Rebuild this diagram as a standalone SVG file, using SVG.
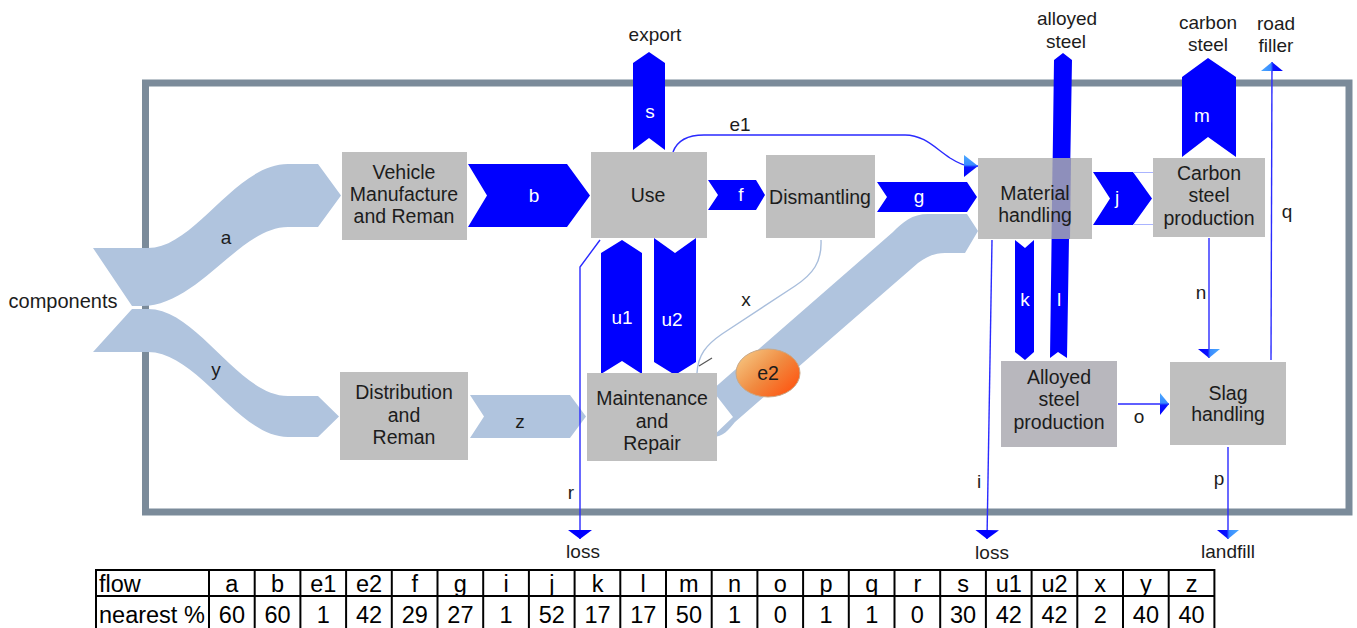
<svg xmlns="http://www.w3.org/2000/svg" width="1357" height="628" viewBox="0 0 1357 628">
  <defs>
    <linearGradient id="headFill" x1="0" y1="0" x2="0" y2="1">
      <stop offset="0" stop-color="#4aa8ff"/>
      <stop offset="0.45" stop-color="#3a8cff"/>
      <stop offset="0.55" stop-color="#0a14ff"/>
      <stop offset="1" stop-color="#0000ff"/>
    </linearGradient>
    <linearGradient id="e2Fill" x1="0" y1="0" x2="1" y2="0.8">
      <stop offset="0" stop-color="#f7d08c"/>
      <stop offset="0.55" stop-color="#f08a40"/>
      <stop offset="1" stop-color="#ff5410"/>
    </linearGradient>
    <marker id="head" markerUnits="userSpaceOnUse" markerWidth="9" markerHeight="24" viewBox="0 0 9 24" refX="9" refY="12" orient="auto">
      <path d="M0,0 L9,12 L0,24 Z" fill="#0000ff"/>
    </marker>
    <marker id="headSoft" markerUnits="userSpaceOnUse" markerWidth="9" markerHeight="22" viewBox="0 0 9 22" refX="9" refY="11" orient="auto">
      <path d="M0,0 L9,11 L0,22 Z" fill="url(#headFill)"/>
    </marker>
    <marker id="headSide" markerUnits="userSpaceOnUse" markerWidth="14" markerHeight="22" viewBox="0 0 14 22" refX="14" refY="11" orient="auto">
      <path d="M0,0 L14,11 L0,22 Z" fill="url(#headFill)"/>
    </marker>
  </defs>
  <style>
    .box { fill: #bfbfbf; }
    .t { font-family: "Liberation Sans", Arial, sans-serif; font-size: 19px; fill: #1c1c1c; text-anchor: middle; }
    .nt { font-family: "Liberation Sans", Arial, sans-serif; font-size: 19.5px; fill: #1c1c1c; text-anchor: middle; }
    .w { font-family: "Liberation Sans", Arial, sans-serif; font-size: 19px; fill: #ffffff; text-anchor: middle; }
    .blue { fill: #0000ff; }
    .pale { fill: #b0c4de; }
    .thin { fill: none; stroke: #2a2aff; stroke-width: 1.4; }
    .faint { fill: none; stroke: #aab4ff; stroke-width: 1; }
    .tbl line, .tbl rect { stroke: #000; stroke-width: 2; fill: none; }
    .tbl text { font-family: "Liberation Sans", Arial, sans-serif; font-size: 23.5px; fill: #000; text-anchor: middle; }
  </style>

  <!-- system boundary -->
  <rect x="145.5" y="83" width="1203.5" height="429" fill="none" stroke="#7b8b9a" stroke-width="7"/>

  <!-- flows between processes -->
  <g id="connectors">
    <!-- broad (Sankey) flows -->
    <path id="flow-a" class="pale" d="M93,248 L148,248 C195,248 235,164 288,164 L318,164 L341,195.5 L318,227 L288,227 C240,227 198,306 142,306 L132,306 Z"/>
    <path id="flow-y" class="pale" d="M132,309 L148,309 C198,309 238,396 288,396 L318,396 L339,416.5 L318,437 L288,437 C238,437 198,352 148,352 L93,352 Z"/>
    <path id="flow-z" class="pale" d="M470,395 L570,395 L586,416.5 L570,438 L470,438 L484,416.5 Z"/>
    <path id="flow-e2" class="pale" d="M712,390 L893,232 C903,222 912,214 928,214 L967,214 L978,231 L965,253 L945,253 C935,253 928,256 918,263 L735,422 C728,430 724,437 712,437 L733,417 Z"/>
    <path id="flow-b" class="blue" d="M468,164 L567,164 L590,195.5 L567,227 L468,227 L487,195.5 Z"/>
    <path id="flow-f" class="blue" d="M708,180 L756,180 L765,195 L756,210 L708,210 L718,195 Z"/>
    <path id="flow-g" class="blue" d="M877,182 L967,182 L977,197 L967,212 L877,212 L887,197 Z"/>
    <path id="flow-j" class="blue" d="M1093,172 L1133,172 L1152,198.5 L1133,225 L1093,225 L1110,198.5 Z"/>
    <path class="faint" d="M1133,172.5 H1153 M1133,224.5 H1153"/>
    <path id="flow-s" class="blue" d="M633,150 L633,63 L649,52 L665,63 L665,150 L649,138 Z"/>
    <path id="flow-m" class="blue" d="M1182,157 L1182,77 L1208,58 L1236,77 L1236,157 L1208,137 Z"/>
    <path id="flow-u1" class="blue" d="M601,374 L601,253 L622,240 L642,253 L642,374 L622,361 Z"/>
    <path id="flow-u2" class="blue" d="M654,238 L675,253 L696,238 L696,362 L675,375 L654,362 Z"/>
    <path id="flow-k" class="blue" d="M1015,240 L1025,248 L1034,240 L1034,352 L1025,360 L1015,352 Z"/>
    <path id="flow-l" class="blue" d="M1050,358 L1054,60 L1063,53 L1072,60 L1067,358 L1058,352 Z"/>

    <!-- thin flows -->
    <path id="flow-e1" class="thin" d="M673,152 C677,141 686,135 704,135 L905,135 C924,135 935,148 950,158 C958,163 964,166 970,166 L978,166" marker-end="url(#headSide)"/>
    <path id="flow-x" fill="none" stroke="#a9bedc" stroke-width="1.4" d="M821,240 C822,262 813,274 795,286 L722,334 C706,345 698,355 697,373"/>
    <line x1="699" y1="366" x2="712" y2="358" stroke="#555" stroke-width="1.3"/>
    <path id="flow-r" class="thin" d="M600,240 L580,267 L580,539" marker-end="url(#head)"/>
    <path id="flow-i" class="thin" d="M992,240 L987,539" marker-end="url(#head)"/>
    <path id="flow-n" class="thin" d="M1209,238 L1209,358" marker-end="url(#headSoft)"/>
    <path id="flow-o" class="thin" d="M1118,404 L1169,404" marker-end="url(#headSoft)"/>
    <path id="flow-q" class="thin" d="M1271,360 L1272,62" marker-end="url(#headSoft)"/>
    <path id="flow-p" class="thin" d="M1228,447 L1228,539" marker-end="url(#headSoft)"/>

    <!-- flow labels -->
    <text class="t" x="226" y="244">a</text>
    <text class="t" x="216" y="376">y</text>
    <text class="t" x="520" y="428">z</text>
    <text class="t" x="746" y="306">x</text>
    <text class="t" x="740" y="131">e1</text>
    <text class="t" x="571" y="499">r</text>
    <text class="t" x="979" y="488">i</text>
    <text class="t" x="1201" y="299">n</text>
    <text class="t" x="1139" y="423">o</text>
    <text class="t" x="1287" y="218">q</text>
    <text class="t" x="1219" y="485">p</text>
    <text class="w" x="534" y="202">b</text>
    <text class="w" x="650" y="118">s</text>
    <text class="w" x="741" y="201">f</text>
    <text class="w" x="919" y="203">g</text>
    <text class="w" x="1117" y="204">j</text>
    <text class="w" x="1202" y="122">m</text>
    <text class="w" x="622" y="324">u1</text>
    <text class="w" x="672" y="326">u2</text>
    <text class="w" x="1025" y="306">k</text>
    <text class="w" x="1059" y="306">l</text>

    <!-- sources and sinks -->
    <text class="t" x="63" y="308" style="font-size:20px">components</text>
    <text class="t" x="655" y="41">export</text>
    <text class="t" x="1067" y="25">alloyed</text>
    <text class="t" x="1066" y="48">steel</text>
    <text class="t" x="1208" y="29">carbon</text>
    <text class="t" x="1208" y="51">steel</text>
    <text class="t" x="1276" y="30">road</text>
    <text class="t" x="1276" y="52">filler</text>
    <text class="t" x="583" y="558">loss</text>
    <text class="t" x="992" y="559">loss</text>
    <text class="t" x="1228" y="558">landfill</text>
  </g>

  <!-- process nodes -->
  <g id="node-vehicle">
    <rect class="box" x="342" y="152" width="125" height="88"/>
    <text class="nt" x="404" y="179">Vehicle</text>
    <text class="nt" x="404" y="201">Manufacture</text>
    <text class="nt" x="404" y="223">and Reman</text>
  </g>
  <g id="node-distribution">
    <rect class="box" x="340" y="372" width="128" height="88"/>
    <text class="nt" x="404" y="399">Distribution</text>
    <text class="nt" x="404" y="422">and</text>
    <text class="nt" x="404" y="444">Reman</text>
  </g>
  <g id="node-use">
    <rect class="box" x="591" y="152" width="116" height="86"/>
    <text class="nt" x="648" y="202">Use</text>
  </g>
  <g id="node-dismantling">
    <rect class="box" x="766" y="155" width="109" height="83"/>
    <text class="nt" x="820" y="204">Dismantling</text>
  </g>
  <g id="node-material">
    <rect class="box" x="978" y="158" width="114" height="81"/>
    <path d="M1052.6,158 L1071,158 L1070,239 L1051.5,239 Z" fill="#8e8fbb"/>
    <text class="nt" x="1035" y="200">Material</text>
    <text class="nt" x="1035" y="222">handling</text>
  </g>
  <g id="node-carbon">
    <rect class="box" x="1153" y="158" width="112" height="79"/>
    <text class="nt" x="1209" y="180">Carbon</text>
    <text class="nt" x="1209" y="202">steel</text>
    <text class="nt" x="1209" y="225">production</text>
  </g>
  <g id="node-maintenance">
    <rect class="box" x="587" y="373" width="130" height="88"/>
    <text class="nt" x="652" y="405">Maintenance</text>
    <text class="nt" x="652" y="428">and</text>
    <text class="nt" x="652" y="450">Repair</text>
  </g>
  <g id="node-alloyed">
    <rect x="1001" y="361" width="116" height="86" fill="#b8b7bd"/>
    <text class="nt" x="1059" y="384">Alloyed</text>
    <text class="nt" x="1059" y="406">steel</text>
    <text class="nt" x="1059" y="429">production</text>
  </g>
  <g id="node-slag">
    <rect class="box" x="1170" y="362" width="116" height="83"/>
    <text class="nt" x="1228" y="400">Slag</text>
    <text class="nt" x="1228" y="421">handling</text>
  </g>
  <g id="node-e2">
    <ellipse cx="768" cy="373" rx="32" ry="24" fill="url(#e2Fill)" stroke="#c8a888" stroke-width="1"/>
    <text class="nt" x="768" y="380">e2</text>
  </g>

  <!-- flow size table -->
  <g class="tbl" id="flow-table">
    <rect x="96" y="570" width="1118.4" height="62"/>
    <line x1="96" y1="596" x2="1214.4" y2="596"/>
    <line x1="209" y1="570" x2="209" y2="630"/>
    <line x1="254.7" y1="570" x2="254.7" y2="630"/>
    <line x1="300.4" y1="570" x2="300.4" y2="630"/>
    <line x1="346.1" y1="570" x2="346.1" y2="630"/>
    <line x1="391.8" y1="570" x2="391.8" y2="630"/>
    <line x1="437.5" y1="570" x2="437.5" y2="630"/>
    <line x1="483.2" y1="570" x2="483.2" y2="630"/>
    <line x1="528.9" y1="570" x2="528.9" y2="630"/>
    <line x1="574.6" y1="570" x2="574.6" y2="630"/>
    <line x1="620.3" y1="570" x2="620.3" y2="630"/>
    <line x1="666" y1="570" x2="666" y2="630"/>
    <line x1="711.7" y1="570" x2="711.7" y2="630"/>
    <line x1="757.4" y1="570" x2="757.4" y2="630"/>
    <line x1="803.1" y1="570" x2="803.1" y2="630"/>
    <line x1="848.8" y1="570" x2="848.8" y2="630"/>
    <line x1="894.5" y1="570" x2="894.5" y2="630"/>
    <line x1="940.2" y1="570" x2="940.2" y2="630"/>
    <line x1="985.9" y1="570" x2="985.9" y2="630"/>
    <line x1="1031.6" y1="570" x2="1031.6" y2="630"/>
    <line x1="1077.3" y1="570" x2="1077.3" y2="630"/>
    <line x1="1123" y1="570" x2="1123" y2="630"/>
    <line x1="1168.7" y1="570" x2="1168.7" y2="630"/>
    <text x="99" y="592" style="text-anchor:start">flow</text>
    <text x="99" y="623" style="text-anchor:start">nearest %</text>
    <text x="231.9" y="592">a</text><text x="231.9" y="623">60</text>
    <text x="277.6" y="592">b</text><text x="277.6" y="623">60</text>
    <text x="323.3" y="592">e1</text><text x="323.3" y="623">1</text>
    <text x="369" y="592">e2</text><text x="369" y="623">42</text>
    <text x="414.7" y="592">f</text><text x="414.7" y="623">29</text>
    <text x="460.4" y="592">g</text><text x="460.4" y="623">27</text>
    <text x="506.1" y="592">i</text><text x="506.1" y="623">1</text>
    <text x="551.8" y="592">j</text><text x="551.8" y="623">52</text>
    <text x="597.5" y="592">k</text><text x="597.5" y="623">17</text>
    <text x="643.2" y="592">l</text><text x="643.2" y="623">17</text>
    <text x="688.9" y="592">m</text><text x="688.9" y="623">50</text>
    <text x="734.6" y="592">n</text><text x="734.6" y="623">1</text>
    <text x="780.3" y="592">o</text><text x="780.3" y="623">0</text>
    <text x="826" y="592">p</text><text x="826" y="623">1</text>
    <text x="871.7" y="592">q</text><text x="871.7" y="623">1</text>
    <text x="917.4" y="592">r</text><text x="917.4" y="623">0</text>
    <text x="963.1" y="592">s</text><text x="963.1" y="623">30</text>
    <text x="1008.8" y="592">u1</text><text x="1008.8" y="623">42</text>
    <text x="1054.5" y="592">u2</text><text x="1054.5" y="623">42</text>
    <text x="1100.2" y="592">x</text><text x="1100.2" y="623">2</text>
    <text x="1145.9" y="592">y</text><text x="1145.9" y="623">40</text>
    <text x="1191.6" y="592">z</text><text x="1191.6" y="623">40</text>
  </g>
</svg>
